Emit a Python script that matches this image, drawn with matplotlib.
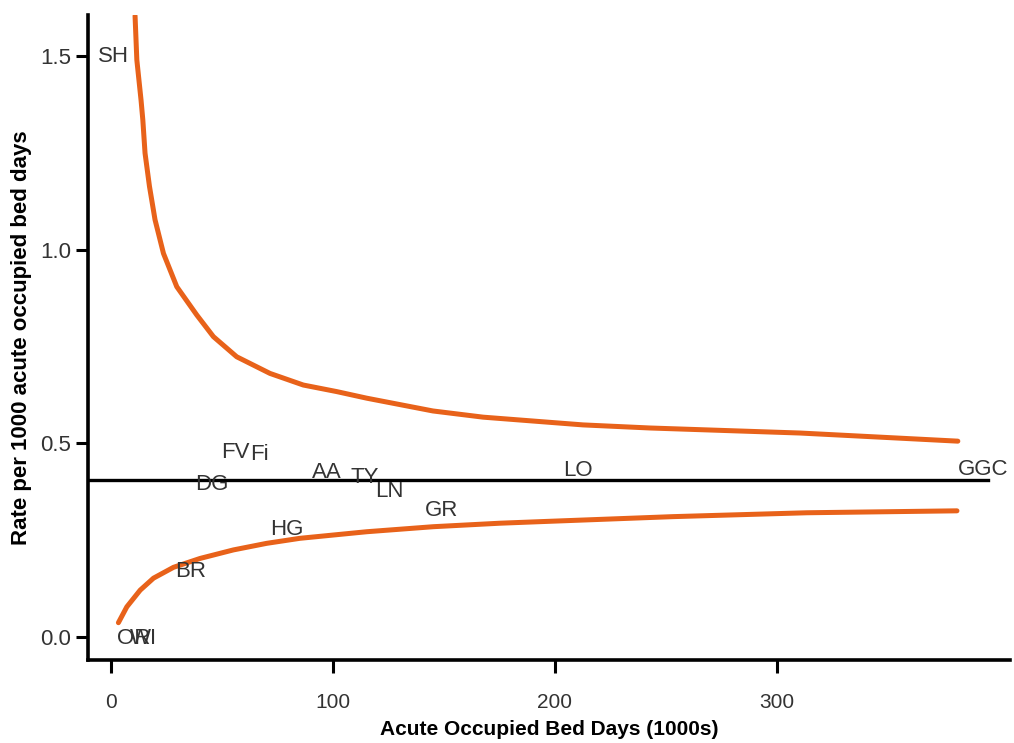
import matplotlib
matplotlib.use("Agg")
import matplotlib.pyplot as plt

# Upper control limit
upper_x = [10.8, 11.6, 13.5, 14.3, 15.3, 17.3, 19.8, 23.6, 29.6, 38.6, 46.1, 56.6,
           71.6, 86.6, 101.7, 115.2, 145.0, 167.6, 190.1, 212.6, 242.8, 310.4, 381.5]
upper_y = [1.605, 1.491, 1.387, 1.336, 1.250, 1.164, 1.078, 0.991, 0.905, 0.832, 0.776, 0.724,
           0.681, 0.651, 0.634, 0.617, 0.584, 0.568, 0.558, 0.548, 0.540, 0.527, 0.506]

# Lower control limit
lower_x = [3.3, 7.1, 13.1, 19.1, 28.1, 40.1, 55.1, 70.1, 85.1, 115.2, 145.2, 175.2,
           193.2, 253.2, 313.5, 381.1]
lower_y = [0.037, 0.078, 0.121, 0.152, 0.180, 0.203, 0.225, 0.242, 0.255, 0.272, 0.285, 0.294,
           0.298, 0.311, 0.321, 0.326]

# Overall mean rate
mean_rate = 0.406
mean_x = [-10.4, 395.0]

# Hospitals / boards
codes = ['SH', 'FV', 'Fi', 'DG', 'AA', 'TY', 'LN', 'GR', 'HG', 'BR', 'OR', 'WI', 'LO', 'GGC']
code_x = [1.0, 56.0, 66.7, 45.5, 97.0, 114.4, 125.5, 148.8, 79.0, 36.0, 10.0, 14.5, 210.5, 393.0]
code_y = [1.50, 0.477, 0.472, 0.393, 0.426, 0.413, 0.375, 0.328, 0.279, 0.168, -0.003, -0.003, 0.429, 0.434]

xticks = [0, 100, 200, 300]
yticks = [0.0, 0.5, 1.0, 1.5]
ytick_labels = ['0.0', '0.5', '1.0', '1.5']

plt.rcParams['font.family'] = ['Liberation Sans', 'DejaVu Sans']

fig = plt.figure(figsize=(10.14, 7.43), dpi=100)
ax = fig.add_axes([88/1014, 83/743, (1010-88)/1014, (660-15)/743])

orange = '#E8621A'
ax.plot(upper_x, upper_y, color=orange, lw=3.6, solid_capstyle='round',
        solid_joinstyle='round', zorder=3)
ax.plot(lower_x, lower_y, color=orange, lw=3.6, solid_capstyle='round',
        solid_joinstyle='round', zorder=3)
ax.plot(mean_x, [mean_rate, mean_rate], color='black', lw=2.4, zorder=2)

for c, x, y in zip(codes, code_x, code_y):
    ax.text(x, y, c, ha='center', va='center', fontsize=16, color='#333333', zorder=4)

ax.set_xlim(-10.4, 405)
ax.set_ylim(-0.0594, 1.607)

for s in ['top', 'right']:
    ax.spines[s].set_visible(False)
for s in ['left', 'bottom']:
    ax.spines[s].set_linewidth(2.6)

ax.set_xticks(xticks)
ax.set_xticklabels([str(t) for t in xticks], fontsize=15, color='#333333')
ax.set_yticks(yticks)
ax.set_yticklabels(ytick_labels, fontsize=16, color='#333333')
ax.tick_params(axis='x', length=9, width=2.2, pad=15)
ax.tick_params(axis='y', length=9, width=2.2, pad=3)

ax.set_xlabel('Acute Occupied Bed Days (1000s)', fontsize=15, fontweight='bold')
ax.xaxis.label.set_va('center')
ax.xaxis.set_label_coords(0.5, -0.108)
ax.set_ylabel('Rate per 1000 acute occupied bed days', fontsize=16, fontweight='bold', labelpad=6)

fig.savefig('out.png', dpi=100)
